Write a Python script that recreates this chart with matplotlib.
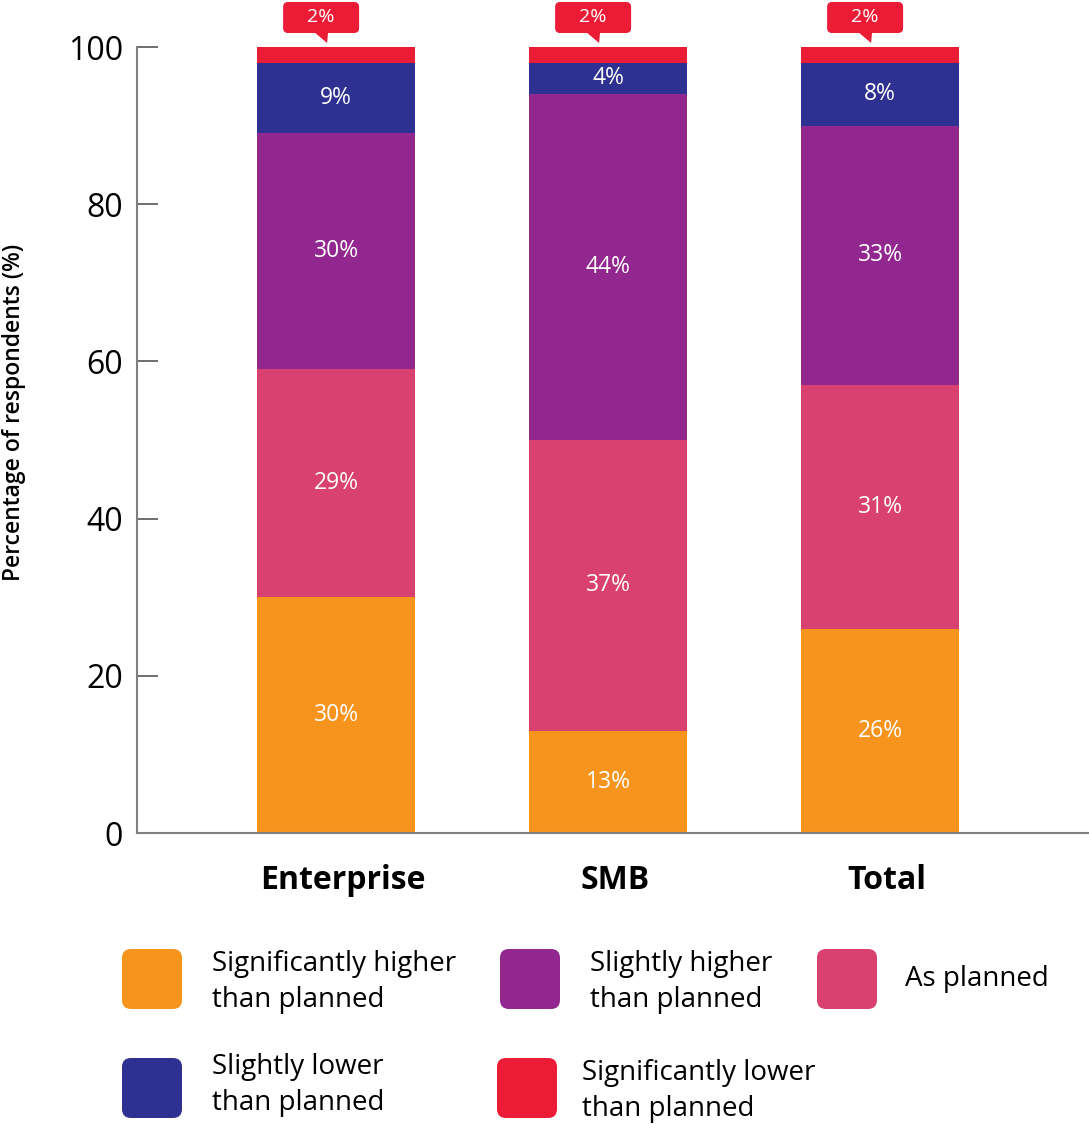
import matplotlib.pyplot as plt
from matplotlib.patches import FancyBboxPatch, Polygon
import numpy as np

plt.rcParams['font.family'] = ['Open Sans', 'DejaVu Sans']

categories = ['Enterprise', 'SMB', 'Total']
series = ['Significantly higher\nthan planned', 'As planned', 'Slightly higher\nthan planned',
          'Slightly lower\nthan planned', 'Significantly lower\nthan planned']
sig_higher = [30, 13, 26]
as_planned = [29, 37, 31]
sl_higher = [30, 44, 33]
sl_lower = [9, 4, 8]
sig_lower = [2, 2, 2]
colors = ['#F7941E', '#D94170', '#92278F', '#2E3192', '#ED1C36']

W, H = 1089, 1124
fig = plt.figure(figsize=(W / 100, H / 100), dpi=100)
ax = fig.add_axes([137 / W, (H - 833) / H, (W - 137) / W, (833 - 47) / H])

x = np.arange(len(categories))
data = [sig_higher, as_planned, sl_higher, sl_lower, sig_lower]
bottom = np.zeros(len(categories))
for vals, c in zip(data, colors):
    ax.bar(x, vals, width=0.58, bottom=bottom, color=c, zorder=2)
    for xi, b, v in zip(x, bottom, vals):
        if v >= 4:
            ax.text(xi, b + v / 2, f'{v}%', ha='center', va='center', color='white', fontsize=16.5)
    bottom = bottom + np.array(vals)

# callouts for the small top segment
px = 1 / 272.0          # x data units per pixel
py = 100 / 786.0        # y data units per pixel
for xi, v in zip(x, sig_lower):
    top = 100 + 14 * py
    box = FancyBboxPatch((xi - 53 * px, top), 76 * px, 31 * py,
                         boxstyle='round,pad=0,rounding_size=%f' % (5 * px),
                         mutation_aspect=py / px, fc=colors[4], ec='none', clip_on=False)
    ax.add_patch(box)
    tri = Polygon([(xi - 22 * px, top + 1 * py), (xi - 8 * px, top + 1 * py), (xi - 9 * px, 100 + 4 * py)],
                  closed=True, fc=colors[4], ec='none', clip_on=False)
    ax.add_patch(tri)
    ax.text(xi - 15 * px, top + 16 * py, f'{v}%', ha='center', va='center', color='white',
            fontsize=14, clip_on=False)

ax.set_xlim(-0.732, 2.768)
ax.set_ylim(0, 100)
ax.set_yticks([0, 20, 40, 60, 80, 100])
# labels sit a little right of the bar centres in the original
ax.set_xticks(x + 7 * px)
ax.set_xticklabels(categories, fontsize=23, fontweight='bold')
ax.tick_params(axis='x', length=0, pad=22)
ax.tick_params(axis='y', direction='in', length=15, width=1.2, color='#555555', labelsize=23, pad=10)
for s in ['top', 'right']:
    ax.spines[s].set_visible(False)
for s in ['left', 'bottom']:
    ax.spines[s].set_color('#808080')
    ax.spines[s].set_linewidth(1.5)

fig.text(14 / W, 1 - 412 / H, 'Percentage of respondents (%)', rotation=90,
         ha='center', va='center', fontsize=16.5, fontweight='semibold')

# legend drawn in pixel coordinates
lg = fig.add_axes([0, 0, 1, 1])
lg.set_xlim(0, W)
lg.set_ylim(H, 0)
lg.axis('off')
legend_items = [
    (0, 122, 949, 212, 982),
    (2, 500, 949, 590, 982),
    (1, 817, 949, 905, 979),
    (3, 122, 1058, 212, 1085),
    (4, 497, 1058, 582, 1091),
]
for idx, sx, sy, tx, ty in legend_items:
    lg.add_patch(FancyBboxPatch((sx, sy), 60, 60, boxstyle='round,pad=0,rounding_size=9',
                                fc=colors[idx], ec='none'))
    lg.text(tx, ty, series[idx], ha='left', va='center', fontsize=20, linespacing=1.4)

fig.savefig('out.png', dpi=100)
